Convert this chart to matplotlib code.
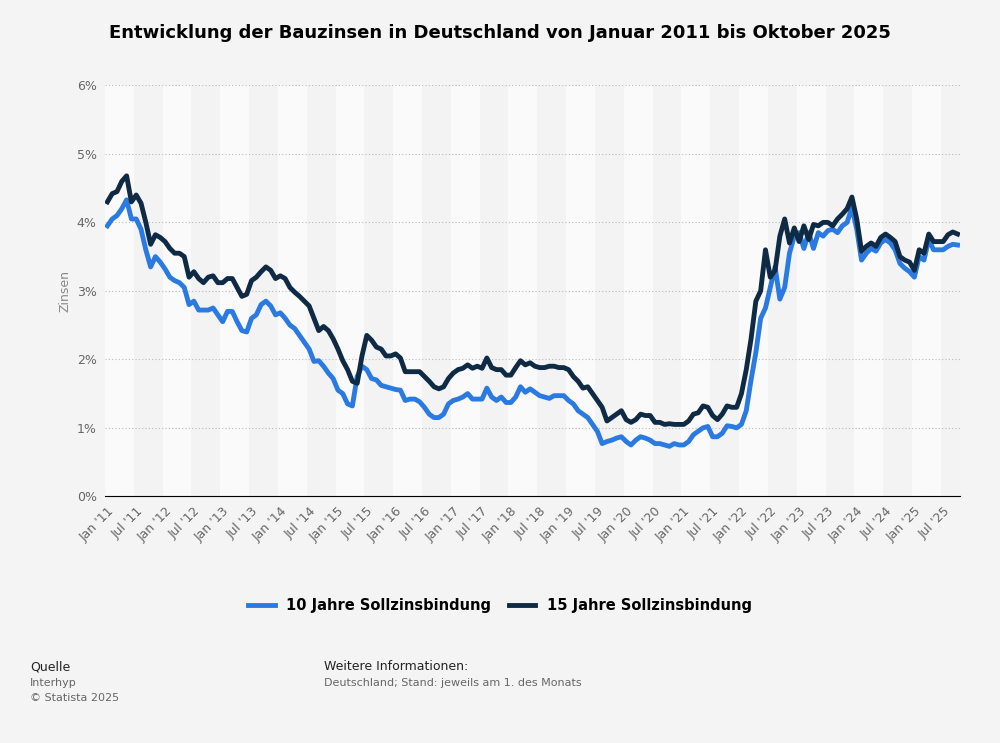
import pandas as pd
import matplotlib.pyplot as plt
import numpy as np

# Monthly interest rates (%), Jan 2011 - Oct 2025
rates_10 = [
    3.95, 4.05, 4.1, 4.2, 4.33, 4.05, 4.05, 3.9, 3.6, 3.35, 3.5, 3.42,
    3.32, 3.2, 3.15, 3.12, 3.05, 2.8, 2.85, 2.72, 2.72, 2.72, 2.75, 2.65,
    2.55, 2.7, 2.7, 2.55, 2.42, 2.4, 2.6, 2.65, 2.8, 2.85, 2.78, 2.65,
    2.68, 2.6, 2.5, 2.45, 2.35, 2.25, 2.15, 1.97, 1.98, 1.9, 1.8, 1.72,
    1.55, 1.5, 1.35, 1.32, 1.75, 1.9, 1.85, 1.72, 1.7, 1.62, 1.6, 1.58,
    1.56, 1.55, 1.4, 1.42, 1.42, 1.38, 1.3, 1.2, 1.15, 1.15, 1.2, 1.35,
    1.4, 1.42, 1.45, 1.5, 1.42, 1.42, 1.42, 1.58, 1.45, 1.4, 1.45, 1.37,
    1.37, 1.45, 1.6, 1.52, 1.57, 1.52, 1.47, 1.45, 1.43, 1.47, 1.47, 1.47,
    1.4, 1.35, 1.25, 1.2, 1.15, 1.05, 0.95, 0.77, 0.8, 0.82, 0.85, 0.87,
    0.8, 0.75, 0.82, 0.87, 0.85, 0.82, 0.77, 0.77, 0.75, 0.73, 0.77, 0.75,
    0.75, 0.8, 0.9, 0.95, 1.0, 1.02, 0.87, 0.87, 0.92, 1.03, 1.02, 1.0,
    1.05, 1.25, 1.7, 2.1, 2.6, 2.75, 3.05, 3.35, 2.88, 3.05, 3.55, 3.8,
    3.85, 3.62, 3.85, 3.62, 3.85, 3.8, 3.88, 3.9, 3.85, 3.95, 4.0, 4.22,
    3.9, 3.45, 3.55, 3.62, 3.58, 3.7, 3.75, 3.7, 3.6, 3.4, 3.33, 3.28,
    3.2, 3.5, 3.45, 3.75, 3.6, 3.6, 3.6, 3.65, 3.68, 3.67,
]
rates_15 = [
    4.3, 4.42, 4.45, 4.6, 4.68, 4.3, 4.4, 4.28, 4.0, 3.68, 3.82, 3.78,
    3.72, 3.62, 3.55, 3.55, 3.5, 3.2, 3.28, 3.18, 3.12, 3.2, 3.22, 3.12,
    3.12, 3.18, 3.18, 3.05, 2.92, 2.95, 3.15, 3.2, 3.28, 3.35, 3.3, 3.18,
    3.22, 3.18, 3.05, 2.98, 2.92, 2.85, 2.78, 2.6, 2.42, 2.48, 2.42, 2.3,
    2.15, 1.98, 1.85, 1.68, 1.65, 2.05, 2.35, 2.28, 2.18, 2.15, 2.05, 2.05,
    2.08, 2.02, 1.82, 1.82, 1.82, 1.82, 1.75, 1.68, 1.6, 1.57, 1.6, 1.72,
    1.8, 1.85, 1.87, 1.92, 1.87, 1.9, 1.87, 2.02, 1.88, 1.85, 1.85, 1.77,
    1.77, 1.88, 1.98, 1.92, 1.95, 1.9, 1.88, 1.88, 1.9, 1.9, 1.88, 1.88,
    1.85, 1.75, 1.68, 1.58, 1.6, 1.5, 1.4, 1.3, 1.1, 1.15, 1.2, 1.25,
    1.12, 1.08, 1.12, 1.2, 1.18, 1.18, 1.08, 1.08, 1.05, 1.06, 1.05, 1.05,
    1.05, 1.1, 1.2, 1.22, 1.32, 1.3, 1.18, 1.12, 1.2, 1.32, 1.3, 1.3,
    1.5, 1.85, 2.3, 2.85, 3.0, 3.6, 3.2, 3.3, 3.8, 4.05, 3.7, 3.92,
    3.72, 3.95, 3.75, 3.97, 3.95, 4.0, 4.0, 3.95, 4.05, 4.12, 4.2, 4.37,
    4.05, 3.58, 3.65, 3.7, 3.65, 3.78, 3.83, 3.78, 3.72, 3.5, 3.45, 3.42,
    3.3, 3.6, 3.55, 3.83, 3.72, 3.72, 3.72, 3.82, 3.86, 3.83,
]
data = pd.DataFrame({'10 Jahre Sollzinsbindung': rates_10,
                     '15 Jahre Sollzinsbindung': rates_15})
months = np.arange(len(data))

# Create figure
fig, ax = plt.subplots(figsize=(10, 7.43), dpi=100)
fig.patch.set_facecolor('#f4f4f4')
ax.set_facecolor('#fafafa')
fig.subplots_adjust(left=0.105, right=0.96, top=0.885, bottom=0.332)

# Alternating half-year bands
for start in range(0, len(data), 12):
    ax.axvspan(start + 5.5, start + 11.5, color='#f3f3f3', zorder=0, lw=0)

colors = {'10 Jahre Sollzinsbindung': '#2a7ae2',
          '15 Jahre Sollzinsbindung': '#0f2a44'}
for name in data.columns:
    ax.plot(months, data[name], label=name, color=colors[name],
            linewidth=3.5, solid_joinstyle='round', zorder=3)

ax.set_xlim(-0.5, len(data) - 0.5)
ax.set_ylim(0, 6)
ax.set_yticks(range(7))
ax.set_yticklabels([f'{v}%' for v in range(7)], fontsize=9, color='#666666')
ticks = list(range(0, len(data), 6))
labels = [("Jan '" if t % 12 == 0 else "Jul '") + f'{11 + t // 12:02d}' for t in ticks]
ax.set_xticks(ticks)
ax.set_xticklabels(labels, rotation=45, ha='right', rotation_mode='anchor',
                   fontsize=9, color='#666666')
ax.tick_params(length=0, pad=6)
ax.grid(axis='y', linestyle=(0, (1, 2)), color='#bbbbbb', linewidth=0.8)
for side in ['top', 'right', 'left']:
    ax.spines[side].set_visible(False)
ax.spines['bottom'].set_color('#000000')
ax.set_ylabel('Zinsen', fontsize=9, color='#888888')

fig.suptitle('Entwicklung der Bauzinsen in Deutschland von Januar 2011 bis Oktober 2025',
             x=0.5, y=0.968, fontsize=13, fontweight='bold', color='#000000')
fig.legend(loc='center', bbox_to_anchor=(0.5, 0.185), ncol=2, frameon=False,
           prop={'size': 10.5, 'weight': 'bold'}, handlelength=1.8, columnspacing=1.2)

fig.text(0.03, 0.098, 'Quelle', fontsize=9, color='#222222')
fig.text(0.03, 0.077, 'Interhyp', fontsize=8, color='#666666')
fig.text(0.03, 0.057, '© Statista 2025', fontsize=8, color='#666666')
fig.text(0.324, 0.098, 'Weitere Informationen:', fontsize=9, color='#222222')
fig.text(0.324, 0.077, 'Deutschland; Stand: jeweils am 1. des Monats', fontsize=8, color='#666666')

plt.savefig('out.png', dpi=100, facecolor=fig.get_facecolor())
plt.close()
